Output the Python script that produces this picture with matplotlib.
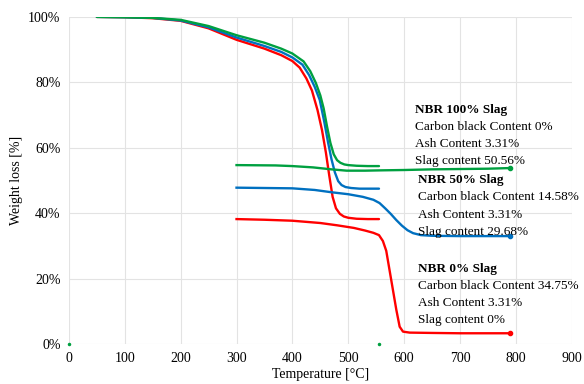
import numpy as np
import matplotlib.pyplot as plt
from matplotlib.ticker import FuncFormatter

out_path = 'out.png'

# first heating run (temperature in C, weight in %)
red1_t = [50, 100, 150, 200, 250, 300, 350, 380, 400, 413, 425, 435, 445, 453, 460, 466, 472, 478, 485, 492, 500, 515, 535, 555]
red1_w = [100, 99.9, 99.6, 98.8, 96.5, 93.0, 90.3, 88.3, 86.5, 84.5, 81.2, 77.5, 71.5, 65.4, 58.5, 51.5, 45.0, 41.5, 39.8, 39.0, 38.6, 38.3, 38.2, 38.2]
blue1_t = [50, 100, 150, 200, 250, 300, 350, 380, 400, 418, 430, 440, 449, 457, 464, 470, 476, 482, 488, 495, 505, 520, 540, 555]
blue1_w = [100, 99.9, 99.7, 98.9, 96.8, 93.7, 91.1, 89.3, 87.6, 85.4, 82.2, 78.6, 74.6, 68.0, 61.5, 56.5, 52.5, 49.8, 48.6, 48.0, 47.7, 47.5, 47.5, 47.5]
green1_t = [50, 100, 150, 200, 250, 300, 350, 380, 400, 420, 432, 442, 450, 456, 462, 468, 474, 480, 486, 493, 500, 515, 535, 555]
green1_w = [100, 99.9, 99.7, 99.1, 97.2, 94.4, 92.1, 90.3, 88.8, 86.4, 83.4, 79.8, 76.0, 72.0, 66.5, 61.5, 58.0, 56.2, 55.4, 54.9, 54.7, 54.5, 54.4, 54.4]

# second run
red2_t = [300, 350, 400, 450, 480, 510, 530, 545, 555, 562, 568, 574, 580, 586, 592, 598, 610, 650, 700, 750, 790]
red2_w = [38.2, 38.0, 37.7, 37.0, 36.3, 35.5, 34.7, 34.0, 33.3, 31.5, 28.5, 22.5, 16.5, 10.5, 5.3, 3.8, 3.5, 3.4, 3.3, 3.3, 3.3]
blue2_t = [300, 350, 400, 440, 470, 500, 526, 545, 556, 566, 576, 586, 596, 606, 616, 630, 650, 700, 750, 790]
blue2_w = [47.8, 47.7, 47.6, 47.1, 46.4, 45.8, 45.0, 44.1, 43.1, 41.5, 39.8, 37.9, 36.2, 34.8, 33.9, 33.3, 33.1, 33.0, 33.0, 33.0]
green2_t = [300, 370, 400, 437, 470, 497, 530, 560, 600, 650, 700, 750, 790]
green2_w = [54.7, 54.6, 54.4, 54.0, 53.4, 53.0, 53.0, 53.1, 53.2, 53.4, 53.5, 53.6, 53.8]

stray_t = [0, 555]
stray_w = [0, 0]

labels = [
    ('NBR 100% Slag', ['Carbon black Content 0%', 'Ash Content 3.31%', 'Slag content 50.56%'], 619, 71.5),
    ('NBR 50% Slag', ['Carbon black Content 14.58%', 'Ash Content 3.31%', 'Slag content 29.68%'], 624, 50.0),
    ('NBR 0% Slag', ['Carbon black Content 34.75%', 'Ash Content 3.31%', 'Slag content 0%'], 624, 23.0),
]

RED = '#FF0000'
BLUE = '#0070C0'
GREEN = '#00A040'


def make_plot(out_path=None):
    plt.rcParams['font.family'] = 'Liberation Serif'
    fig = plt.figure(figsize=(5.84, 3.84), dpi=100)
    ax = fig.add_axes([0.118, 0.104, 0.861, 0.852])

    for t, w, c in [(red1_t, red1_w, RED), (blue1_t, blue1_w, BLUE), (green1_t, green1_w, GREEN)]:
        ax.plot(t, w, color=c, lw=1.7, solid_capstyle='round')
    for t, w, c in [(red2_t, red2_w, RED), (blue2_t, blue2_w, BLUE), (green2_t, green2_w, GREEN)]:
        ax.plot(t, w, color=c, lw=1.7, marker='o', markersize=3, markevery=[-1])
    ax.plot(stray_t, stray_w, 'o', color=GREEN, markersize=1.5, clip_on=False)

    for title, lines, x, y in labels:
        ax.text(x, y, title, fontsize=9.5, fontweight='bold', va='center')
        for i, s in enumerate(lines):
            ax.text(x, y - 5.2 * (i + 1), s, fontsize=9.5, va='center')

    ax.set_xlim(0, 900)
    ax.set_ylim(0, 100)
    ax.set_xticks(np.arange(0, 901, 100))
    ax.set_yticks(np.arange(0, 101, 20))
    ax.yaxis.set_major_formatter(FuncFormatter(lambda v, p: '%d%%' % v))
    ax.grid(True, color='#e3e3e3', lw=0.8)
    ax.set_axisbelow(True)
    for s in ax.spines.values():
        s.set_visible(False)
    ax.tick_params(length=0, labelsize=10, pad=6)
    ax.set_xlabel('Temperature [°C]', fontsize=10, labelpad=2)
    ax.set_ylabel('Weight loss [%]', fontsize=10, labelpad=4)

    if out_path:
        fig.savefig(out_path, dpi=100)
    return fig


if __name__ == '__main__':
    fig = make_plot(out_path)
